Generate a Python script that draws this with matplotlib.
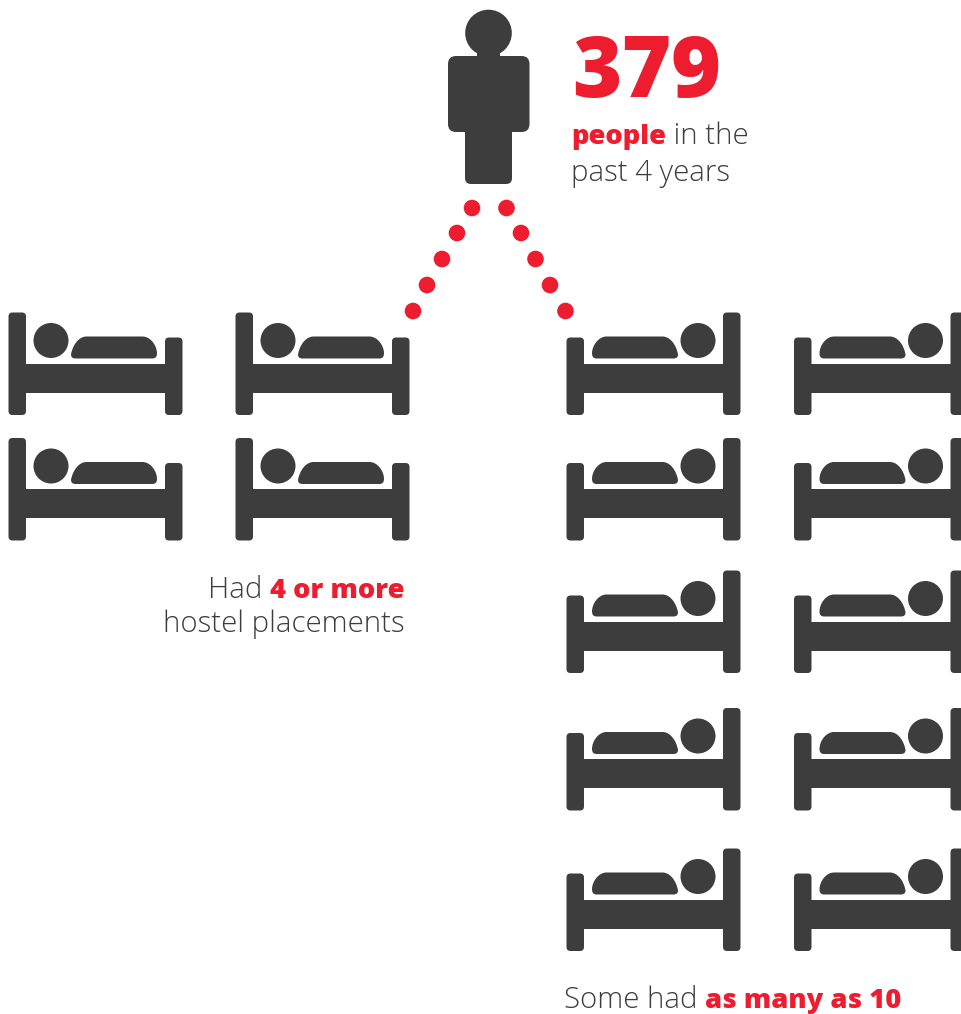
import matplotlib
matplotlib.use("Agg")
import matplotlib.pyplot as plt
from matplotlib.patches import Circle, FancyBboxPatch, PathPatch
from matplotlib.path import Path

DARK = "#3d3d3d"
RED = "#ed1c2e"
BOLD_FONT = "Open Sans"
BODY_FONT = "Open Sans"

headline = "379"
people_runs = [("people", True), (" in the", False)]
years_runs = [("past 4 years", False)]
left_runs = [[("Had ", False), ("4 or more", True)], [("hostel placements", False)]]
right_runs = [("Some had ", False), ("as many as 10", True)]

left_bed_cols = [8.5, 235.5]
left_bed_rows = [312.5, 438]
right_bed_cols = [566.5, 794]
right_bed_rows = [312.5, 438, 570.5, 708, 848.5]
dots_left = [(472, 208), (457, 233), (442, 259), (427, 285), (413, 311)]
dots_right = [(506.5, 208), (521, 233), (535.5, 259), (550, 285), (565.5, 311)]

fig = plt.figure(figsize=(9.61, 10.14), dpi=100)
ax = fig.add_axes([0, 0, 1, 1])
ax.set_xlim(0, 961)
ax.set_ylim(1014, 0)
ax.axis("off")


def rrect(x0, y0, x1, y1, r, color=DARK):
    r = min(r, (x1 - x0) / 2, (y1 - y0) / 2)
    ax.add_patch(FancyBboxPatch((x0 + r, y0 + r), x1 - x0 - 2 * r, y1 - y0 - 2 * r,
                                boxstyle=f"round,pad={r},rounding_size={r}",
                                fc=color, ec="none", lw=0))


def bed(x, y, mirror=False):
    W = 174.0
    def X(a):
        return x + W - a if mirror else x + a
    def span(a, b):
        return sorted((X(a), X(b)))
    a, b = span(0, 17.5); rrect(a, y, b, y + 102.5, 4)
    a, b = span(156.5, 174); rrect(a, y + 25, b, y + 102.5, 4)
    a, b = span(10, 165); ax.fill([a, b, b, a], [y + 51, y + 51, y + 80, y + 80], color=DARK, lw=0)
    ax.add_patch(Circle((X(42.5), y + 28), 17.5, fc=DARK, ec="none"))
    verts = [(62.5, y + 42), (62.5, y + 46), (67, y + 46),
             (144, y + 46), (148.5, y + 46), (148.5, y + 41),
             (148.5, y + 33), (142, y + 24), (134, y + 24),
             (78, y + 24), (70, y + 24), (64, y + 33), (62.5, y + 42)]
    codes = [Path.MOVETO, Path.CURVE3, Path.CURVE3,
             Path.LINETO, Path.CURVE3, Path.CURVE3,
             Path.CURVE4, Path.CURVE4, Path.CURVE4,
             Path.LINETO, Path.CURVE4, Path.CURVE4, Path.CURVE4]
    ax.add_patch(PathPatch(Path([(X(u), v) for u, v in verts], codes), fc=DARK, ec="none", lw=0))


def style(bold):
    if bold:
        return dict(family=BOLD_FONT, fontweight=800, color=RED, fontsize=19.7)
    return dict(family=BODY_FONT, fontweight=300, color=DARK, fontsize=21.2)


def text_runs(runs, x, y, ha="left"):
    r = fig.canvas.get_renderer()
    items = []
    total = 0
    for s, bold in runs:
        st = style(bold)
        t = ax.text(0, y, s, va="baseline", ha="left", **st)
        probe = ax.text(0, y, s.replace(" ", "\u00a0"), **st)
        w = probe.get_window_extent(r).width
        probe.remove()
        items.append((t, w))
        total += w
    cx = x - total if ha == "right" else x
    for t, w in items:
        t.set_x(cx)
        cx += w


for x in left_bed_cols:
    for y in left_bed_rows:
        bed(x, y)
for x in right_bed_cols:
    for y in right_bed_rows:
        bed(x, y, mirror=True)

for cx, cy in dots_left + dots_right:
    ax.add_patch(Circle((cx, cy), 8.3, fc=RED, ec="none"))

# person
ax.add_patch(Circle((488.5, 33), 23.3, fc=DARK, ec="none"))
ax.fill([477, 500, 500, 477], [50, 50, 60, 60], color=DARK, lw=0)
rrect(448, 56, 529.5, 132, 8)
rrect(465, 120, 512, 184, 6)

ax.text(572, 97, headline, fontsize=61, family=BOLD_FONT, fontweight=800, color=RED, va="baseline")
text_runs(people_runs, 571, 144.5)
text_runs(years_runs, 571, 180.5)
text_runs(left_runs[0], 405, 598, ha="right")
text_runs(left_runs[1], 405, 632, ha="right")
text_runs(right_runs, 564, 1008.5)

fig.savefig("out.png", dpi=100, facecolor="white")
